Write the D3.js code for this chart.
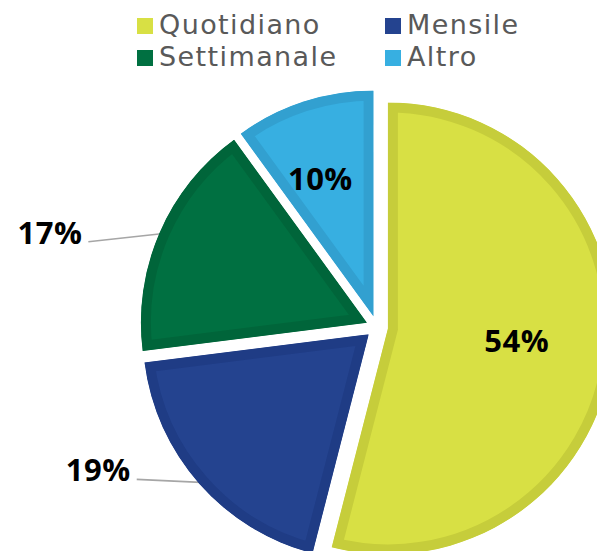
<!DOCTYPE html>
<html>
<head>
<meta charset="utf-8">
<script src="https://cdn.jsdelivr.net/npm/d3@7"></script>
<style>
  body { margin: 0; background: #fff; }
  svg { display: block; }
</style>
</head>
<body>
<div id="chart"></div>
<script>
// data
var categories = ["Quotidiano", "Mensile", "Settimanale", "Altro"];
var values = [54, 19, 17, 10];
var fillColors = ["#d8e044", "#24438f", "#007041", "#37afe1"];
var edgeColors = ["#c6cd3b", "#1f3c85", "#00653a", "#32a0d0"];
var legendOrder = ["Quotidiano", "Mensile", "Settimanale", "Altro"];
var outsideLabels = ["Mensile", "Settimanale"]; // these get a leader line

var width = 597, height = 551;
var cx = 377, cy = 327;     // pie centre
var radius = 226;
var explode = 11;           // gap of each slice from the centre
var labelFont = "'Open Sans', sans-serif";
// where the leader line ends, relative to where it leaves the slice
var leaderEnd = { Settimanale: [-73, 8], Mensile: [-64, -3] };

var svg = d3.select("#chart").append("svg")
    .attr("width", width)
    .attr("height", height);

var pie = d3.pie().sort(null).value(function(d) { return d.value; });
var data = categories.map(function(c, i) { return {name: c, value: values[i], i: i}; });
var arcs = pie(data);

var arc = d3.arc().innerRadius(0).outerRadius(radius);

function bisector(a) { return (a.startAngle + a.endAngle) / 2; }
function pointAt(ang, r) { return [Math.sin(ang) * r, -Math.cos(ang) * r]; }

var g = svg.append("g").attr("transform", "translate(" + cx + "," + cy + ")");

// leader lines, from the slice edge out to the left
arcs.forEach(function(a) {
    if (outsideLabels.indexOf(a.data.name) < 0) return;
    var ang = bisector(a);
    var off = pointAt(ang, explode);
    var s = pointAt(ang, radius - 2);
    var sx = s[0] + off[0], sy = s[1] + off[1];
    var le = leaderEnd[a.data.name];
    var ex = sx + le[0], ey = sy + le[1];
    g.append("line")
        .attr("x1", sx).attr("y1", sy)
        .attr("x2", ex).attr("y2", ey)
        .attr("stroke", "#a6a6a6")
        .attr("stroke-width", 1.6);
    g.append("text")
        .attr("x", ex - 6)
        .attr("y", ey + 2)
        .attr("text-anchor", "end")
        .attr("font-family", labelFont)
        .attr("font-weight", "bold")
        .attr("font-size", "31px")
        .attr("fill", "#000")
        .style("letter-spacing", "0.5px")
        .text(a.data.value + "%");
});

var defs = svg.append("defs");

var slices = g.selectAll(".slice")
    .data(arcs)
    .enter().append("g")
    .attr("class", "slice")
    .attr("transform", function(d) {
        var p = pointAt(bisector(d), explode);
        return "translate(" + p[0] + "," + p[1] + ")";
    });

slices.each(function(d) {
    defs.append("clipPath")
        .attr("id", "clip" + d.data.i)
        .append("path")
        .attr("d", arc(d));
});

// darker border kept inside the slice via the clip
slices.append("path")
    .attr("d", arc)
    .attr("fill", function(d) { return fillColors[d.data.i]; })
    .attr("stroke", function(d) { return edgeColors[d.data.i]; })
    .attr("stroke-width", 20)
    .attr("stroke-linejoin", "miter")
    .attr("clip-path", function(d) { return "url(#clip" + d.data.i + ")"; });

// labels inside the big slices
var labelArc = d3.arc().innerRadius(140).outerRadius(140);
slices.filter(function(d) { return outsideLabels.indexOf(d.data.name) < 0; })
    .append("text")
    .attr("transform", function(d) {
        var c = labelArc.centroid(d);
        return "translate(" + (c[0] - 10) + "," + (c[1] - 5) + ")";
    })
    .attr("text-anchor", "middle")
    .attr("dy", "0.36em")
    .attr("font-family", labelFont)
    .attr("font-weight", "bold")
    .attr("font-size", "31px")
    .attr("fill", "#000")
    .style("letter-spacing", "0.5px")
    .text(function(d) { return d.data.value + "%"; });

// legend, two columns
var legend = svg.append("g").attr("class", "legend");
var item = legend.selectAll(".item")
    .data(legendOrder)
    .enter().append("g")
    .attr("class", "item")
    .attr("transform", function(d, i) {
        return "translate(" + (137 + (i % 2) * 248) + "," + (18 + Math.floor(i / 2) * 32) + ")";
    });

item.append("rect")
    .attr("width", 16).attr("height", 16)
    .attr("fill", function(d) { return fillColors[categories.indexOf(d)]; });

item.append("text")
    .attr("x", 22)
    .attr("y", 16)
    .attr("font-family", "'DejaVu Sans', sans-serif")
    .attr("font-size", "27px")
    .attr("fill", "#595959")
    .style("letter-spacing", "1.4px")
    .text(function(d) { return d; });
</script>
</body>
</html>
